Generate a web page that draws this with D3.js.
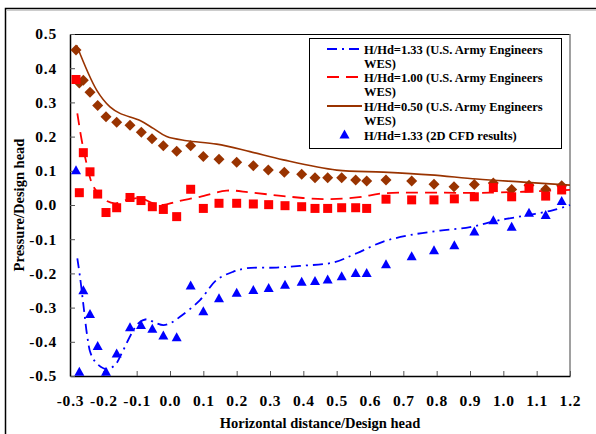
<!DOCTYPE html>
<html>
<head>
<meta charset="utf-8">
<script src="https://cdn.jsdelivr.net/npm/d3@7"></script>
<style>
  body { margin: 0; background: #fff; }
  svg { display: block; font-family: "Liberation Serif", "Times New Roman", serif; font-weight: bold; }
</style>
</head>
<body>
<svg id="chart" width="596" height="434"></svg>
<script>
// axis ticks
const xTicks = [-0.3, -0.2, -0.1, 0.0, 0.1, 0.2, 0.3, 0.4, 0.5, 0.6, 0.7, 0.8, 0.9, 1.0, 1.1, 1.2];
const yTicks = [-0.5, -0.4, -0.3, -0.2, -0.1, 0.0, 0.1, 0.2, 0.3, 0.4, 0.5];

// legend labels
const legendLabels = [
  ["H/Hd=1.33 (U.S. Army Engineers", "WES)"],
  ["H/Hd=1.00 (U.S. Army Engineers", "WES)"],
  ["H/Hd=0.50 (U.S. Army Engineers", "WES)"],
  ["H/Hd=1.33 (2D CFD results)"]
];

// WES curves
const wes133X = [-0.278, -0.27, -0.258, -0.248, -0.238, -0.22, -0.19, -0.165, -0.145, -0.115, -0.095, -0.07, -0.045, -0.02, 0.0, 0.03, 0.09, 0.14, 0.19, 0.23, 0.32, 0.39, 0.49, 0.56, 0.64, 0.72, 0.81, 0.9, 0.98, 1.06, 1.15, 1.2];
const wes133Y = [-0.156, -0.21, -0.307, -0.385, -0.434, -0.463, -0.48, -0.468, -0.434, -0.375, -0.346, -0.334, -0.344, -0.351, -0.346, -0.327, -0.278, -0.219, -0.195, -0.185, -0.183, -0.178, -0.168, -0.141, -0.107, -0.088, -0.075, -0.065, -0.046, -0.032, -0.015, 0.0];

const wes100X = [-0.278, -0.265, -0.248, -0.23, -0.195, -0.165, -0.13, -0.09, -0.05, -0.02, 0.02, 0.09, 0.17, 0.24, 0.34, 0.46, 0.56, 0.64, 0.76, 0.96, 1.2];
const wes100Y = [0.268, 0.19, 0.112, 0.054, 0.015, 0.005, 0.015, 0.02, 0.005, 0.0, 0.01, 0.024, 0.042, 0.037, 0.026, 0.017, 0.022, 0.034, 0.036, 0.036, 0.044];

const wes050X = [-0.28, -0.22, -0.18, -0.15, -0.09, -0.05, -0.01, 0.05, 0.14, 0.24, 0.34, 0.5, 0.64, 0.78, 0.92, 1.06, 1.2];
const wes050Y = [0.467, 0.336, 0.287, 0.268, 0.247, 0.224, 0.2, 0.188, 0.178, 0.156, 0.132, 0.102, 0.096, 0.088, 0.076, 0.067, 0.058];

// CFD points (shared x stations)
const cfdX = [-0.282, -0.272, -0.26, -0.24, -0.217, -0.192, -0.16, -0.12, -0.087, -0.053, -0.02, 0.02, 0.062, 0.1, 0.147, 0.2, 0.25, 0.296, 0.345, 0.395, 0.435, 0.473, 0.515, 0.557, 0.59, 0.648, 0.725, 0.792, 0.853, 0.913, 0.97, 1.025, 1.077, 1.127, 1.175];
// H/Hd=1.33 CFD (triangles)
const cfd133Y = [0.1, -0.489, -0.251, -0.32, -0.414, -0.489, -0.436, -0.359, -0.352, -0.363, -0.383, -0.388, -0.237, -0.312, -0.274, -0.258, -0.25, -0.244, -0.235, -0.226, -0.224, -0.219, -0.21, -0.2, -0.2, -0.175, -0.151, -0.134, -0.119, -0.079, -0.046, -0.065, -0.024, -0.031, 0.01];
// H/Hd=1.00 CFD (squares)
const cfd100Y = [0.367, 0.036, 0.153, 0.097, 0.032, -0.022, -0.008, 0.022, 0.013, -0.005, -0.013, -0.034, 0.046, -0.01, 0.005, 0.005, 0.003, 0.001, -0.002, -0.005, -0.01, -0.01, -0.008, -0.008, -0.01, 0.017, 0.015, 0.015, 0.018, 0.024, 0.051, 0.024, 0.049, 0.026, 0.044];
// H/Hd=0.50 CFD (diamonds)
const cfd050X = [-0.282, -0.272, -0.26, -0.24, -0.217, -0.192, -0.16, -0.12, -0.086, -0.054, -0.02, 0.02, 0.062, 0.1, 0.147, 0.2, 0.25, 0.295, 0.343, 0.395, 0.435, 0.473, 0.515, 0.557, 0.59, 0.648, 0.725, 0.792, 0.852, 0.913, 0.97, 1.025, 1.077, 1.127, 1.175];
const cfd050Y = [0.453, 0.357, 0.365, 0.33, 0.291, 0.258, 0.242, 0.233, 0.213, 0.194, 0.173, 0.157, 0.173, 0.142, 0.134, 0.125, 0.115, 0.102, 0.096, 0.09, 0.08, 0.08, 0.08, 0.073, 0.07, 0.073, 0.07, 0.061, 0.053, 0.06, 0.064, 0.045, 0.058, 0.046, 0.056];

const BLUE = "#0000ff", RED = "#ff0000", BROWN = "#993300";
const SERIF = "'Liberation Serif', 'Times New Roman', serif";

const svg = d3.select("#chart");
const margin = { left: 70, top: 34, right: 570, bottom: 376 };

const x = d3.scaleLinear().domain([-0.3, 1.2]).range([margin.left, margin.right]);
const y = d3.scaleLinear().domain([-0.5, 0.5]).range([margin.bottom, margin.top]);

// outer frame
svg.append("rect")
  .attr("x", 5.5).attr("y", 8.5).attr("width", 620).attr("height", 460)
  .attr("fill", "#fff").attr("stroke", "#000").attr("stroke-width", 1.5);
svg.append("line")
  .attr("x1", 6).attr("x2", 596).attr("y1", 10.5).attr("y2", 10.5)
  .attr("stroke", "#ccc").attr("stroke-width", 1);

// plot border (top / right)
svg.append("line").attr("x1", margin.left).attr("x2", margin.right)
  .attr("y1", margin.top + 0.5).attr("y2", margin.top + 0.5)
  .attr("stroke", "#000").attr("stroke-width", 1.2);
svg.append("line").attr("x1", margin.right).attr("x2", margin.right)
  .attr("y1", margin.top).attr("y2", margin.bottom)
  .attr("stroke", "#808080").attr("stroke-width", 1.5);

// axes
const fmt = d => d3.format(".1f")(d).replace("−", "-");
const xAxis = d3.axisBottom(x).tickValues(xTicks).tickSizeInner(-5).tickSizeOuter(0)
  .tickPadding(19).tickFormat(fmt);
const yAxis = d3.axisLeft(y).tickValues(yTicks).tickSizeInner(-5).tickSizeOuter(0)
  .tickPadding(13).tickFormat(fmt);

const gx = svg.append("g").attr("transform", `translate(0,${margin.bottom})`).call(xAxis);
const gy = svg.append("g").attr("transform", `translate(${margin.left},0)`).call(yAxis);

[gx, gy].forEach(g => {
  g.attr("font-family", SERIF).attr("font-size", 15.5).attr("font-weight", "bold");
  g.select(".domain").attr("stroke", "#000").attr("stroke-width", 1.5);
  g.selectAll(".tick line").attr("stroke", "#555").attr("stroke-width", 1);
  g.selectAll(".tick text").attr("fill", "#000").attr("letter-spacing", 0.8);
});

// axis titles
svg.append("text")
  .attr("x", (margin.left + margin.right) / 2).attr("y", 428)
  .attr("text-anchor", "middle").style("font-size", "14.5px")
  .text("Horizontal distance/Design head");
svg.append("text")
  .attr("transform", `translate(24,${(margin.top + margin.bottom) / 2}) rotate(-90)`)
  .attr("text-anchor", "middle").style("font-size", "14.5px")
  .text("Pressure/Design head");

// curves
const line = d3.line().x(d => x(d[0])).y(d => y(d[1])).curve(d3.curveCatmullRom.alpha(0.5));
const zip = (a, b) => a.map((v, i) => [v, b[i]]);

svg.append("path").datum(zip(wes050X, wes050Y))
  .attr("d", line).attr("fill", "none").attr("stroke", BROWN).attr("stroke-width", 1.6);
svg.append("path").datum(zip(wes100X, wes100Y))
  .attr("d", line).attr("fill", "none").attr("stroke", RED).attr("stroke-width", 1.8)
  .attr("stroke-dasharray", "12,7");
svg.append("path").datum(zip(wes133X, wes133Y))
  .attr("d", line).attr("fill", "none").attr("stroke", BLUE).attr("stroke-width", 1.8)
  .attr("stroke-dasharray", "10,5,2,5");

// markers
svg.append("g").selectAll("path")
  .data(zip(cfd050X, cfd050Y)).join("path")
  .attr("transform", d => `translate(${x(d[0])},${y(d[1])})`)
  .attr("d", "M0,-5.5L5.5,0L0,5.5L-5.5,0Z").attr("fill", BROWN);

svg.append("g").selectAll("rect")
  .data(zip(cfdX, cfd100Y)).join("rect")
  .attr("x", d => x(d[0]) - 4.5).attr("y", d => y(d[1]) - 4.5)
  .attr("width", 9).attr("height", 9).attr("fill", RED);

const tri = "M0,-5.5L5,3.5L-5,3.5Z";
svg.append("g").selectAll("path")
  .data(zip(cfdX, cfd133Y)).join("path")
  .attr("transform", d => `translate(${x(d[0])},${y(d[1])})`)
  .attr("d", tri).attr("fill", BLUE);

// legend
const lg = svg.append("g");
lg.append("rect").attr("x", 309.5).attr("y", 38.5).attr("width", 252).attr("height", 110)
  .attr("fill", "#fff").attr("stroke", "#000").attr("stroke-width", 1);
const legendY = [49, 77, 106, 135];
const sample = [
  { color: BLUE, dash: "10,5,2,5" },
  { color: RED, dash: "12,7" },
  { color: BROWN, dash: null }
];
sample.forEach((s, i) => {
  lg.append("line").attr("x1", 327).attr("x2", 362)
    .attr("y1", legendY[i]).attr("y2", legendY[i])
    .attr("stroke", s.color).attr("stroke-width", 1.8)
    .attr("stroke-dasharray", s.dash);
});
lg.append("path").attr("transform", `translate(344.5,${legendY[3]})`).attr("d", tri).attr("fill", BLUE);
legendLabels.forEach((lines, i) => {
  lines.forEach((t, j) => {
    lg.append("text").attr("x", 364).attr("y", legendY[i] + j * 14.5 + 4.5)
      .style("font-size", "12.5px").text(t);
  });
});
</script>
</body>
</html>
